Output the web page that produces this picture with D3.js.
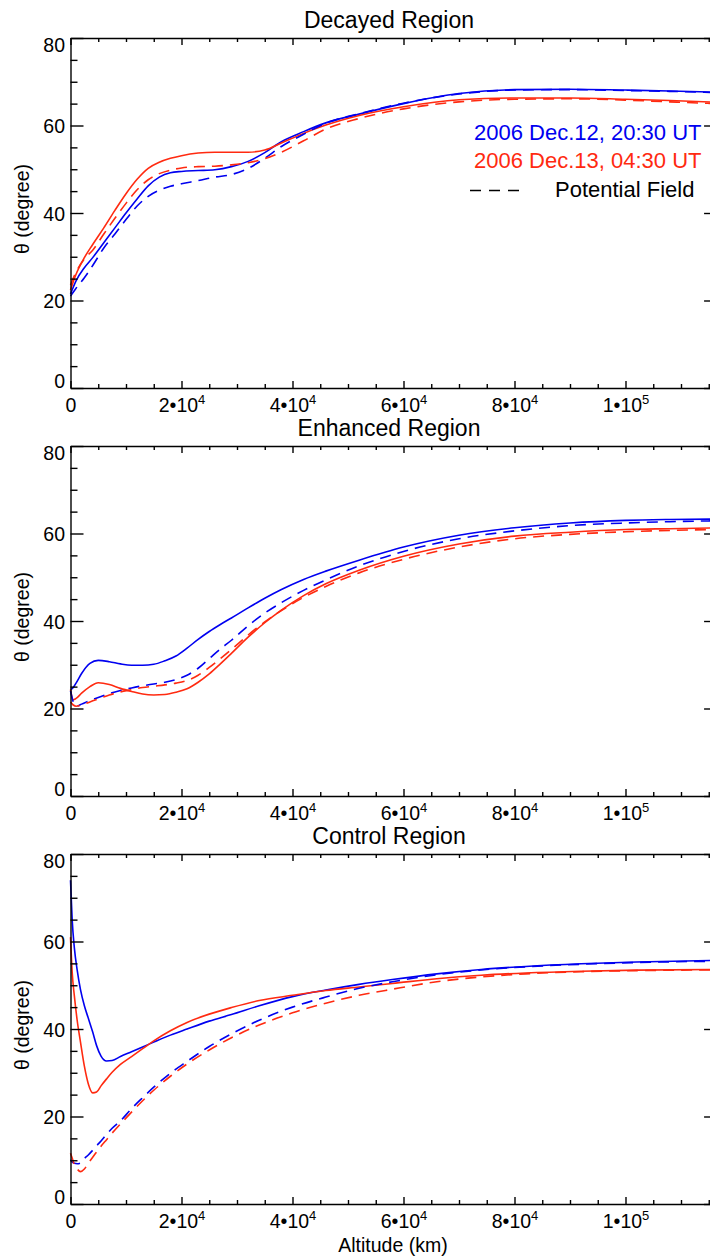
<!DOCTYPE html>
<html>
<head>
<meta charset="utf-8">
<title></title>
<style>
body { margin: 0; background: #fff; }
text { font-family: "Liberation Sans", Arial, Helvetica, sans-serif; fill: #000; }
.axis path, .axis line { stroke: #000; stroke-width: 1.4px; }
path.curve { fill: none; stroke-width: 1.6px; }
</style>
</head>
<body>
<script src="https://cdn.jsdelivr.net/npm/d3@7"></script>
<script>

// ---- data (theta in degrees vs altitude in km) ----
var altDecayed = [0, 1000, 2500, 4000, 6000, 8000, 10000, 12000, 14000, 16000, 18000, 20000, 23000, 26000, 29000, 32000, 35000, 38000, 42000, 46000, 52000, 60000, 70000, 80000, 90000, 100000, 108000, 116500];
var decayedDec12 = [21.5, 24.5, 27.5, 29.8, 33.2, 36.6, 40.0, 43.2, 46.2, 48.2, 49.2, 49.5, 49.7, 49.9, 50.6, 51.8, 53.8, 56.3, 58.6, 60.6, 62.6, 65.0, 67.3, 68.2, 68.3, 68.1, 67.9, 67.6];
var decayedDec13 = [22.4, 26.0, 29.8, 32.8, 36.6, 40.6, 44.4, 47.7, 50.2, 51.6, 52.5, 53.1, 53.7, 53.9, 53.9, 53.9, 54.4, 56.0, 58.2, 60.1, 62.3, 64.3, 65.9, 66.3, 66.3, 66.0, 65.7, 65.3];
var decayedPot12 = [21.0, 22.8, 25.2, 28.0, 32.0, 35.2, 38.5, 41.6, 43.8, 45.2, 46.1, 46.7, 47.4, 48.2, 48.8, 50.2, 52.5, 55.2, 58.0, 60.5, 62.7, 65.1, 67.2, 68.1, 68.2, 68.0, 67.8, 67.5];
var decayedPot13 = [23.5, 26.5, 29.5, 31.5, 35.2, 38.8, 42.2, 45.3, 47.6, 49.0, 49.8, 50.3, 50.6, 50.7, 51.0, 51.5, 52.4, 53.9, 56.5, 59.2, 61.6, 63.8, 65.4, 66.0, 66.1, 65.8, 65.4, 65.0];

var altEnhanced = [0, 500, 1000, 2000, 3500, 5000, 7000, 9000, 11000, 13000, 15000, 17000, 19000, 21000, 23000, 25000, 27000, 29000, 32000, 35000, 38000, 42000, 46000, 52000, 60000, 70000, 80000, 90000, 100000, 108000, 116500];
var enhancedDec12 = [24.3, 24.8, 25.8, 28.0, 30.3, 31.0, 30.7, 30.2, 29.9, 29.9, 30.1, 30.9, 32.0, 33.8, 35.8, 37.6, 39.2, 40.7, 43.0, 45.2, 47.2, 49.5, 51.4, 53.9, 56.9, 59.6, 61.3, 62.4, 63.0, 63.2, 63.3];
var enhancedDec13 = [24.3, 22.0, 22.3, 23.5, 25.0, 25.9, 25.5, 24.6, 23.9, 23.3, 23.1, 23.2, 23.7, 24.5, 26.0, 27.9, 30.2, 32.6, 36.3, 39.6, 42.5, 45.8, 48.5, 51.6, 54.8, 57.6, 59.4, 60.3, 60.9, 61.1, 61.3];
var enhancedPot12 = [24.0, 21.5, 20.5, 21.0, 21.8, 22.5, 23.4, 24.1, 24.7, 25.2, 25.6, 26.0, 26.6, 27.6, 29.2, 31.4, 33.6, 35.6, 38.9, 41.8, 44.2, 47.0, 49.4, 52.6, 55.9, 58.8, 60.6, 61.8, 62.4, 62.7, 62.9];
var enhancedPot13 = [21.5, 20.8, 20.5, 20.8, 21.5, 22.2, 23.1, 23.8, 24.3, 24.8, 25.1, 25.4, 25.8, 26.4, 27.6, 29.4, 31.4, 33.5, 36.8, 39.8, 42.4, 45.4, 47.9, 51.0, 54.1, 56.9, 58.8, 59.8, 60.4, 60.7, 60.9];

var altControl = [0, 300, 700, 1200, 1800, 2500, 3200, 4000, 4700, 5500, 6500, 7500, 9000, 11000, 13000, 15000, 18000, 21000, 25000, 29000, 34000, 40000, 46000, 52000, 58000, 66000, 74000, 82000, 92000, 102000, 116500];
var controlDec12 = [74.0, 65.0, 58.5, 53.5, 49.0, 45.3, 42.5, 39.3, 36.2, 33.8, 32.7, 32.8, 33.7, 34.8, 35.9, 37.0, 38.6, 40.0, 41.8, 43.3, 45.3, 47.4, 48.9, 50.2, 51.3, 52.6, 53.6, 54.3, 54.9, 55.3, 55.7];
var controlDec13 = [61.0, 53.0, 47.5, 42.0, 37.0, 31.5, 27.5, 25.4, 25.6, 27.0, 28.6, 30.1, 31.9, 33.7, 35.5, 37.3, 39.6, 41.5, 43.4, 44.9, 46.5, 47.7, 48.8, 49.6, 50.4, 51.5, 52.3, 52.8, 53.2, 53.45, 53.6];
var controlPot12 = [10.1, 9.6, 9.3, 9.2, 9.4, 10.4, 11.2, 12.3, 13.3, 14.4, 15.9, 17.3, 19.0, 21.8, 24.3, 26.7, 29.9, 32.6, 36.0, 38.9, 42.0, 45.0, 47.3, 49.3, 50.8, 52.4, 53.5, 54.2, 54.8, 55.2, 55.5];
var controlPot13 = [11.6, 10.5, 9.0, 8.0, 7.4, 8.0, 9.3, 10.7, 11.9, 13.2, 14.7, 16.2, 18.3, 21.0, 23.6, 26.0, 29.2, 32.0, 35.2, 38.0, 40.9, 43.7, 45.9, 47.7, 49.1, 50.8, 51.9, 52.6, 53.1, 53.35, 53.5];

var panelTitles = ["Decayed Region", "Enhanced Region", "Control Region"];
var xTicks = [0, 20000, 40000, 60000, 80000, 100000];
var yTicks = [0, 20, 40, 60, 80];
var legendLabels = ["2006 Dec.12, 20:30 UT", "2006 Dec.13, 04:30 UT", "Potential Field"];

var blue = "#0000f0",
    red = "#ff2a10";

var panels = [
  {title: panelTitles[0], alt: altDecayed, series: [decayedDec12, decayedDec13, decayedPot12, decayedPot13]},
  {title: panelTitles[1], alt: altEnhanced, series: [enhancedDec12, enhancedDec13, enhancedPot12, enhancedPot13]},
  {title: panelTitles[2], alt: altControl, series: [controlDec12, controlDec13, controlPot12, controlPot13]}
];
var seriesStyle = [
  {color: blue, dash: null},
  {color: red, dash: null},
  {color: blue, dash: "11,7"},
  {color: red, dash: "11,7"}
];

var width = 710,
    height = 1260,
    left = 70.5,
    panelTop = [38, 446, 854],
    panelH = 350;

var svg = d3.select("body").append("svg")
    .attr("width", width)
    .attr("height", height);

var x = d3.scaleLinear().domain([0, 116500]).range([left, left + 116500 * 555 / 100000]);
var xMinor = d3.range(0, 116501, 5000).filter(function(v) { return v % 20000 != 0; });
var yMinor = d3.range(0, 81, 5).filter(function(v) { return v % 20 != 0; });

function sciLabel(sel) {
  sel.each(function(d) {
    var t = d3.select(this).text("");
    if (d == 0) { t.text("0"); return; }
    var e = Math.floor(Math.log10(d)), m = Math.round(d / Math.pow(10, e));
    t.append("tspan").text(m + "\u2022" + "10");
    t.append("tspan").attr("dy", -8).style("font-size", "13px").text(e);
  });
}

panels.forEach(function(p, i) {
  var top = panelTop[i], bottom = top + panelH;
  var y = d3.scaleLinear().domain([0, 80]).range([bottom, top]);
  var g = svg.append("g");

  // curves
  var line = d3.line()
      .x(function(d) { return x(d[0]); })
      .y(function(d) { return y(d[1]); })
      .curve(d3.curveMonotoneX);
  p.series.forEach(function(s, k) {
    g.append("path")
      .attr("class", "curve")
      .attr("d", line(p.alt.map(function(a, j) { return [a, s[j]]; })))
      .style("stroke", seriesStyle[k].color)
      .style("stroke-dasharray", seriesStyle[k].dash);
  });

  // bottom axis
  var xb = g.append("g").attr("class", "axis").attr("transform", "translate(0," + bottom + ")")
      .call(d3.axisBottom(x).tickValues(xTicks).tickSizeInner(-7).tickSizeOuter(0));
  xb.selectAll(".tick text")
      .attr("y", 24).attr("dy", null)
      .style("font-size", "19.5px")
      .call(sciLabel);
  g.append("g").attr("class", "axis").attr("transform", "translate(0," + bottom + ")")
      .call(d3.axisBottom(x).tickValues(xMinor).tickSize(-4).tickFormat(""))
      .select(".domain").remove();

  // top axis
  g.append("g").attr("class", "axis").attr("transform", "translate(0," + top + ")")
      .call(d3.axisTop(x).tickValues(xTicks).tickSizeInner(-7).tickSizeOuter(0).tickFormat(""));
  g.append("g").attr("class", "axis").attr("transform", "translate(0," + top + ")")
      .call(d3.axisTop(x).tickValues(xMinor).tickSize(-4).tickFormat(""))
      .select(".domain").remove();

  // left axis
  var yl = g.append("g").attr("class", "axis").attr("transform", "translate(" + left + ",0)")
      .call(d3.axisLeft(y).tickValues(yTicks).tickSizeInner(-13).tickSizeOuter(0));
  yl.selectAll(".tick text")
      .attr("x", -5.5).attr("dy", null)
      .attr("y", function(d) { return d == 80 ? 13 : (d == 0 ? -1 : 7); })
      .style("font-size", "19.5px");
  g.append("g").attr("class", "axis").attr("transform", "translate(" + left + ",0)")
      .call(d3.axisLeft(y).tickValues(yMinor).tickSize(-7).tickFormat(""))
      .select(".domain").remove();

  // right axis
  var xr = x(116500);
  g.append("g").attr("class", "axis").attr("transform", "translate(" + xr + ",0)")
      .call(d3.axisRight(y).tickValues(yTicks).tickSizeInner(-13).tickSizeOuter(0).tickFormat(""));
  g.append("g").attr("class", "axis").attr("transform", "translate(" + xr + ",0)")
      .call(d3.axisRight(y).tickValues(yMinor).tickSize(-7).tickFormat(""))
      .select(".domain").remove();

  // title and y label
  g.append("text")
    .attr("x", 389).attr("y", top - 10)
    .attr("text-anchor", "middle")
    .style("font-size", "23px")
    .text(p.title);

  g.append("text")
    .attr("transform", "translate(29," + (top + panelH / 2 - 4) + ") rotate(-90)")
    .attr("text-anchor", "middle")
    .style("font-size", "19.5px")
    .text("\u03b8 (degree)");
});

// x axis title
svg.append("text")
  .attr("x", 393).attr("y", 1252)
  .attr("text-anchor", "middle")
  .style("font-size", "19.5px")
  .text("Altitude (km)");

// legend in the top panel
var legend = svg.append("g");
legend.append("text").attr("x", 474).attr("y", 140).style("font-size", "22px")
  .style("fill", blue).text(legendLabels[0]);
legend.append("text").attr("x", 474).attr("y", 168).style("font-size", "22px")
  .style("fill", red).text(legendLabels[1]);
legend.append("line")
  .attr("x1", 470).attr("x2", 523).attr("y1", 190.5).attr("y2", 190.5)
  .style("stroke", "#000").style("stroke-width", 1.5)
  .style("stroke-dasharray", "11,8");
legend.append("text").attr("x", 555).attr("y", 197).style("font-size", "22px")
  .text(legendLabels[2]);

</script>
</body>
</html>
